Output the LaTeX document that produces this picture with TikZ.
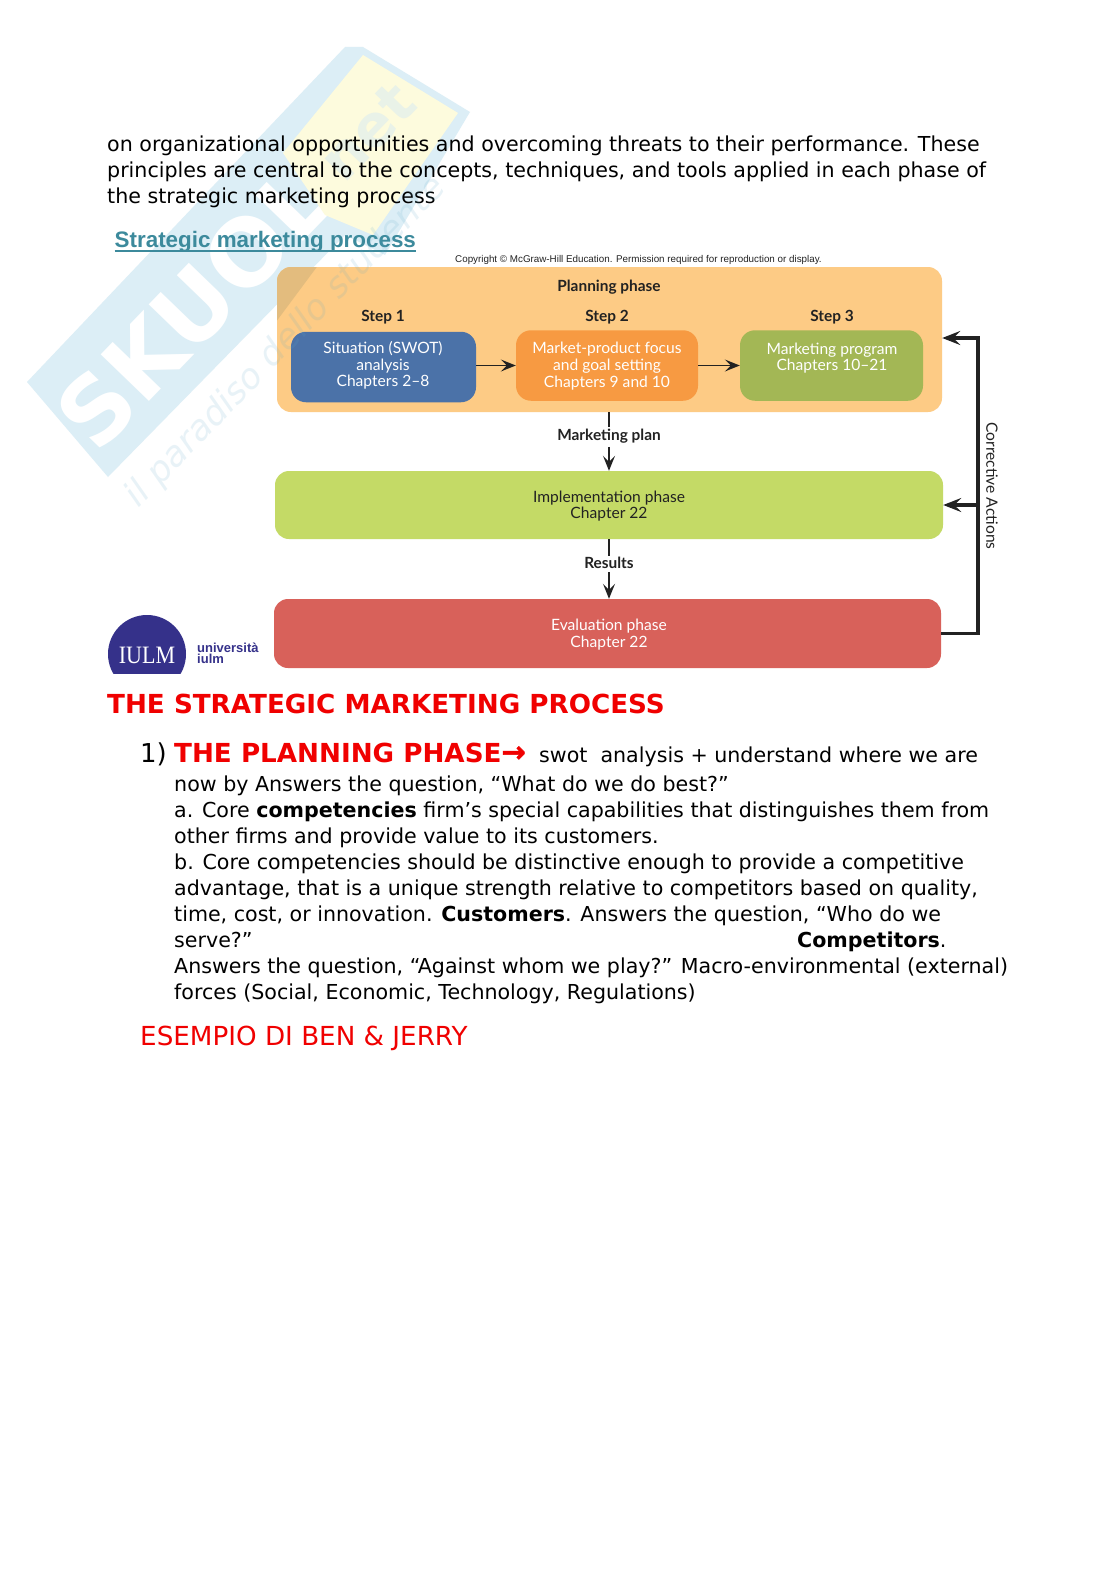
\documentclass[tikz,border=0pt]{standalone}
\usepackage{fontspec}
\setmainfont{DejaVu Sans}
\newfontfamily\arialf{Liberation Sans}
\newfontfamily\timesf{Liberation Serif}
\newfontfamily\diaf{Lato}
\usetikzlibrary{arrows.meta,positioning}
\definecolor{wmblue}{HTML}{DCEEF6}
\definecolor{wmyellow}{HTML}{FDFBDD}
\definecolor{wmpale}{HTML}{E9F2E8}
\definecolor{wmtext}{HTML}{5FA8C8}
\definecolor{tan}{HTML}{FDCB85}
\definecolor{tandark}{HTML}{E3BC7E}
\definecolor{bluebox}{HTML}{4B72A8}
\definecolor{orangebox}{HTML}{F79A42}
\definecolor{greenbox}{HTML}{A3B755}
\definecolor{limebox}{HTML}{C4DA66}
\definecolor{redbox}{HTML}{D8615A}
\definecolor{teal}{HTML}{3C8A9C}
\definecolor{iulm}{HTML}{35318A}
\definecolor{pagered}{HTML}{F00000}
\definecolor{ink}{HTML}{222222}
\newcommand{\bodyfont}{\fontsize{20.6}{26}\selectfont}
\tikzset{
  x=1pt,y=-1pt,
  bodyline/.style={anchor=base west,inner sep=0,font=\bodyfont,text=black},
  redhead/.style={anchor=base west,inner sep=0,text=pagered,font=\fontsize{26.2}{30}\selectfont\bfseries},
  phase/.style={rounded corners=14pt,inner sep=0,draw=none,minimum width=#1},
  stepbox/.style={rounded corners=15pt,inner sep=0,draw=none,minimum width=#1,minimum height=70.5pt},
  boxtext/.style={inner sep=0,align=center,text=white,font=\diaf\fontsize{15.6}{16.6}\selectfont},
  label/.style={inner sep=1.5pt,text=ink,font=\diaf\bfseries\fontsize{15.4}{16}\selectfont},
  flow/.style={draw=ink,line width=1.8pt,-{Stealth[length=15pt,width=12pt,inset=6pt]}},
  flowstub/.style={draw=ink,line width=1.1pt},
  corr/.style={draw=ink,line width=3.4pt},
  corrtip/.style={draw=ink,line width=3.4pt,-{Stealth[length=18pt,width=14pt,inset=7pt]}},
}
\begin{document}
\begin{tikzpicture}
\useasboundingbox (0,0) rectangle (1116,1579);
\fill[white] (0,0) rectangle (1116,1579);
% watermark
\fill[wmblue] (27,382) -- (345,47) -- (363,47) -- (470,112) -- (385,255) -- (345,235) -- (108,477) -- cycle;
\node[rotate=46,anchor=west,inner sep=0,text=white,font=\fontsize{92}{92}\selectfont\bfseries] (wmname) at (73,432) {SKUOLA};
\fill[wmyellow] (363,55) -- (458,113) -- (373,235) -- (325,215) -- (283,153) -- cycle;
\node[rotate=46,inner sep=0,text=wmpale,font=\fontsize{58}{58}\selectfont\bfseries] (wmnet) at (368,132) {net};
% top text
\node[bodyline] (t1) at (107,151.5) {on organizational opportunities and overcoming threats to their performance. These};
\node[bodyline] (t2) at (107,177.5) {principles are central to the concepts, techniques, and tools applied in each phase of};
\node[bodyline] (t3) at (107,203.5) {the strategic marketing process};
% slide title
\node[anchor=base west,inner sep=0,text=teal,font=\arialf\bfseries\fontsize{22.4}{26}\selectfont] (title) at (114.5,247) {Strategic marketing process};
\draw[teal,line width=1.4pt] (title.west |- 0,251) -- (title.east |- 0,251);
\node[anchor=base west,inner sep=0,text=ink,font=\arialf\fontsize{9.82}{12}\selectfont] (copy) at (455,262) {Copyright © McGraw-Hill Education. Permission required for reproduction or display.};
% phases
\node[phase=665pt,minimum height=145pt,fill=tan] (plan) at (609.5,339.5) {};
\begin{scope}
  \clip[rounded corners=14pt] (277,267) rectangle (942,412);
  \fill[tandark] (260,260) -- (322,260) -- (270,330) -- cycle;
\end{scope}
\node[label] (plantitle) at (609,287) {Planning phase};
\node[label] (s1) at (383,317) {Step 1};
\node[label] (s2) at (607,317) {Step 2};
\node[label] (s3) at (832,317) {Step 3};
\node[stepbox=185pt,fill=bluebox] (blue) at (383.5,367) {};
\node[boxtext] (bluetext) at (383,365.5) {Situation (SWOT)\\analysis\\Chapters 2–8};
\node[stepbox=182pt,fill=orangebox] (orange) at (607,365.5) {};
\node[boxtext] (orangetext) at (607,366) {Market-product focus\\and goal setting\\Chapters 9 and 10};
\node[stepbox=183pt,fill=greenbox] (green) at (831.5,365.5) {};
\node[boxtext] (greentext) at (832,358) {Marketing program\\Chapters 10–21};
\node[phase=668pt,minimum height=68pt,fill=limebox] (impl) at (609,505) {};
\node[boxtext,text=ink] (impltext) at (609,506) {Implementation phase\\Chapter 22};
\node[phase=667pt,minimum height=69pt,fill=redbox] (eval) at (607.5,633.5) {};
\node[boxtext] (evaltext) at (609,634.5) {Evaluation phase\\Chapter 22};
% connectors
\draw[flow] (blue.east |- orange.west) -- (orange.west);
\draw[flow] (orange.east) -- (green.west);
\node[label] (mkt) at (609,436) {Marketing plan};
\node[label] (res) at (609,563) {Results};
\draw[flowstub] (plan.south -| mkt) -- (mkt.north);
\draw[flow] ([yshift=-2pt]mkt.south) -- (impl.north -| mkt);
\draw[flowstub] (impl.south -| res) -- (res.north);
\draw[flow] ([yshift=-2pt]res.south) -- (eval.north -| res);
\coordinate (cbottom) at (978,633.5);
\coordinate (cmid) at (978,505);
\coordinate (ctop) at (978,338);
\draw[corr] (eval.east) -- (cbottom) -- (ctop);
\draw[corrtip] ([xshift=1.7pt]ctop) -- (plan.east |- ctop);
\draw[corrtip] (cmid) -- (impl.east |- cmid);
\node[rotate=-90,inner sep=0,text=ink,font=\diaf\fontsize{15.6}{16}\selectfont] (corrlabel) at (992,486) {Corrective Actions};
% handwriting watermark drawn over the page
\node[rotate=46,inner sep=0,text=wmtext,opacity=.14,font=\fontsize{35}{35}\selectfont\itshape] (wmline) at (286,342) {il paradiso dello studente};
% logo
\begin{scope}
  \clip (100,600) rectangle (200,673);
  \fill[iulm] (147,654) circle (39);
\end{scope}
\node[inner sep=0,xscale=.88,text=white,font=\timesf\fontsize{25}{25}\selectfont] (logo) at (147,655) {IULM};
\node[anchor=base west,inner sep=0,text=iulm,font=\arialf\bfseries\fontsize{13}{13}\selectfont] (uni1) at (197,652) {università};
\node[anchor=base west,inner sep=0,text=iulm,font=\arialf\bfseries\fontsize{13}{13}\selectfont] (uni2) at (197,663) {iulm};
% lower text
\node[redhead] (h1) at (107,713.5) {THE STRATEGIC MARKETING PROCESS};
\node[anchor=base west,inner sep=0,font=\fontsize{26}{30}\selectfont] (num) at (140,762) {1)};
\node[redhead] (h2) at (174,762) {THE PLANNING PHASE{\fontsize{29}{30}\selectfont\addfontfeature{FakeBold=1.5}→}};
\node[bodyline] (b0) at (539,762) {swot\ \ analysis + understand where we are};
\node[bodyline] (b1) at (174,791.2) {now by Answers the question, “What do we do best?”};
\node[bodyline] (b2) at (174,817.2) {a. Core \textbf{competencies} firm’s special capabilities that distinguishes them from};
\node[bodyline] (b3) at (174,843.2) {other firms and provide value to its customers.};
\node[bodyline] (b4) at (174,869.2) {b. Core competencies should be distinctive enough to provide a competitive};
\node[bodyline] (b5) at (174,895.2) {advantage, that is a unique strength relative to competitors based on quality,};
\node[bodyline] (b6) at (174,921.2) {time, cost, or innovation. \textbf{Customers}. Answers the question, “Who do we};
\node[bodyline] (b7) at (174,947.2) {serve?”};
\node[bodyline] (b7b) at (797,947.2) {\textbf{Competitors}.};
\node[bodyline] (b8) at (174,973.2) {Answers the question, “Against whom we play?” Macro-environmental (external)};
\node[bodyline] (b9) at (174,999.2) {forces (Social, Economic, Technology, Regulations)};
\node[anchor=base west,inner sep=0,text=pagered,font=\fontsize{26.2}{30}\selectfont] (esempio) at (140,1045) {ESEMPIO DI BEN \& JERRY};
\end{tikzpicture}
\end{document}
